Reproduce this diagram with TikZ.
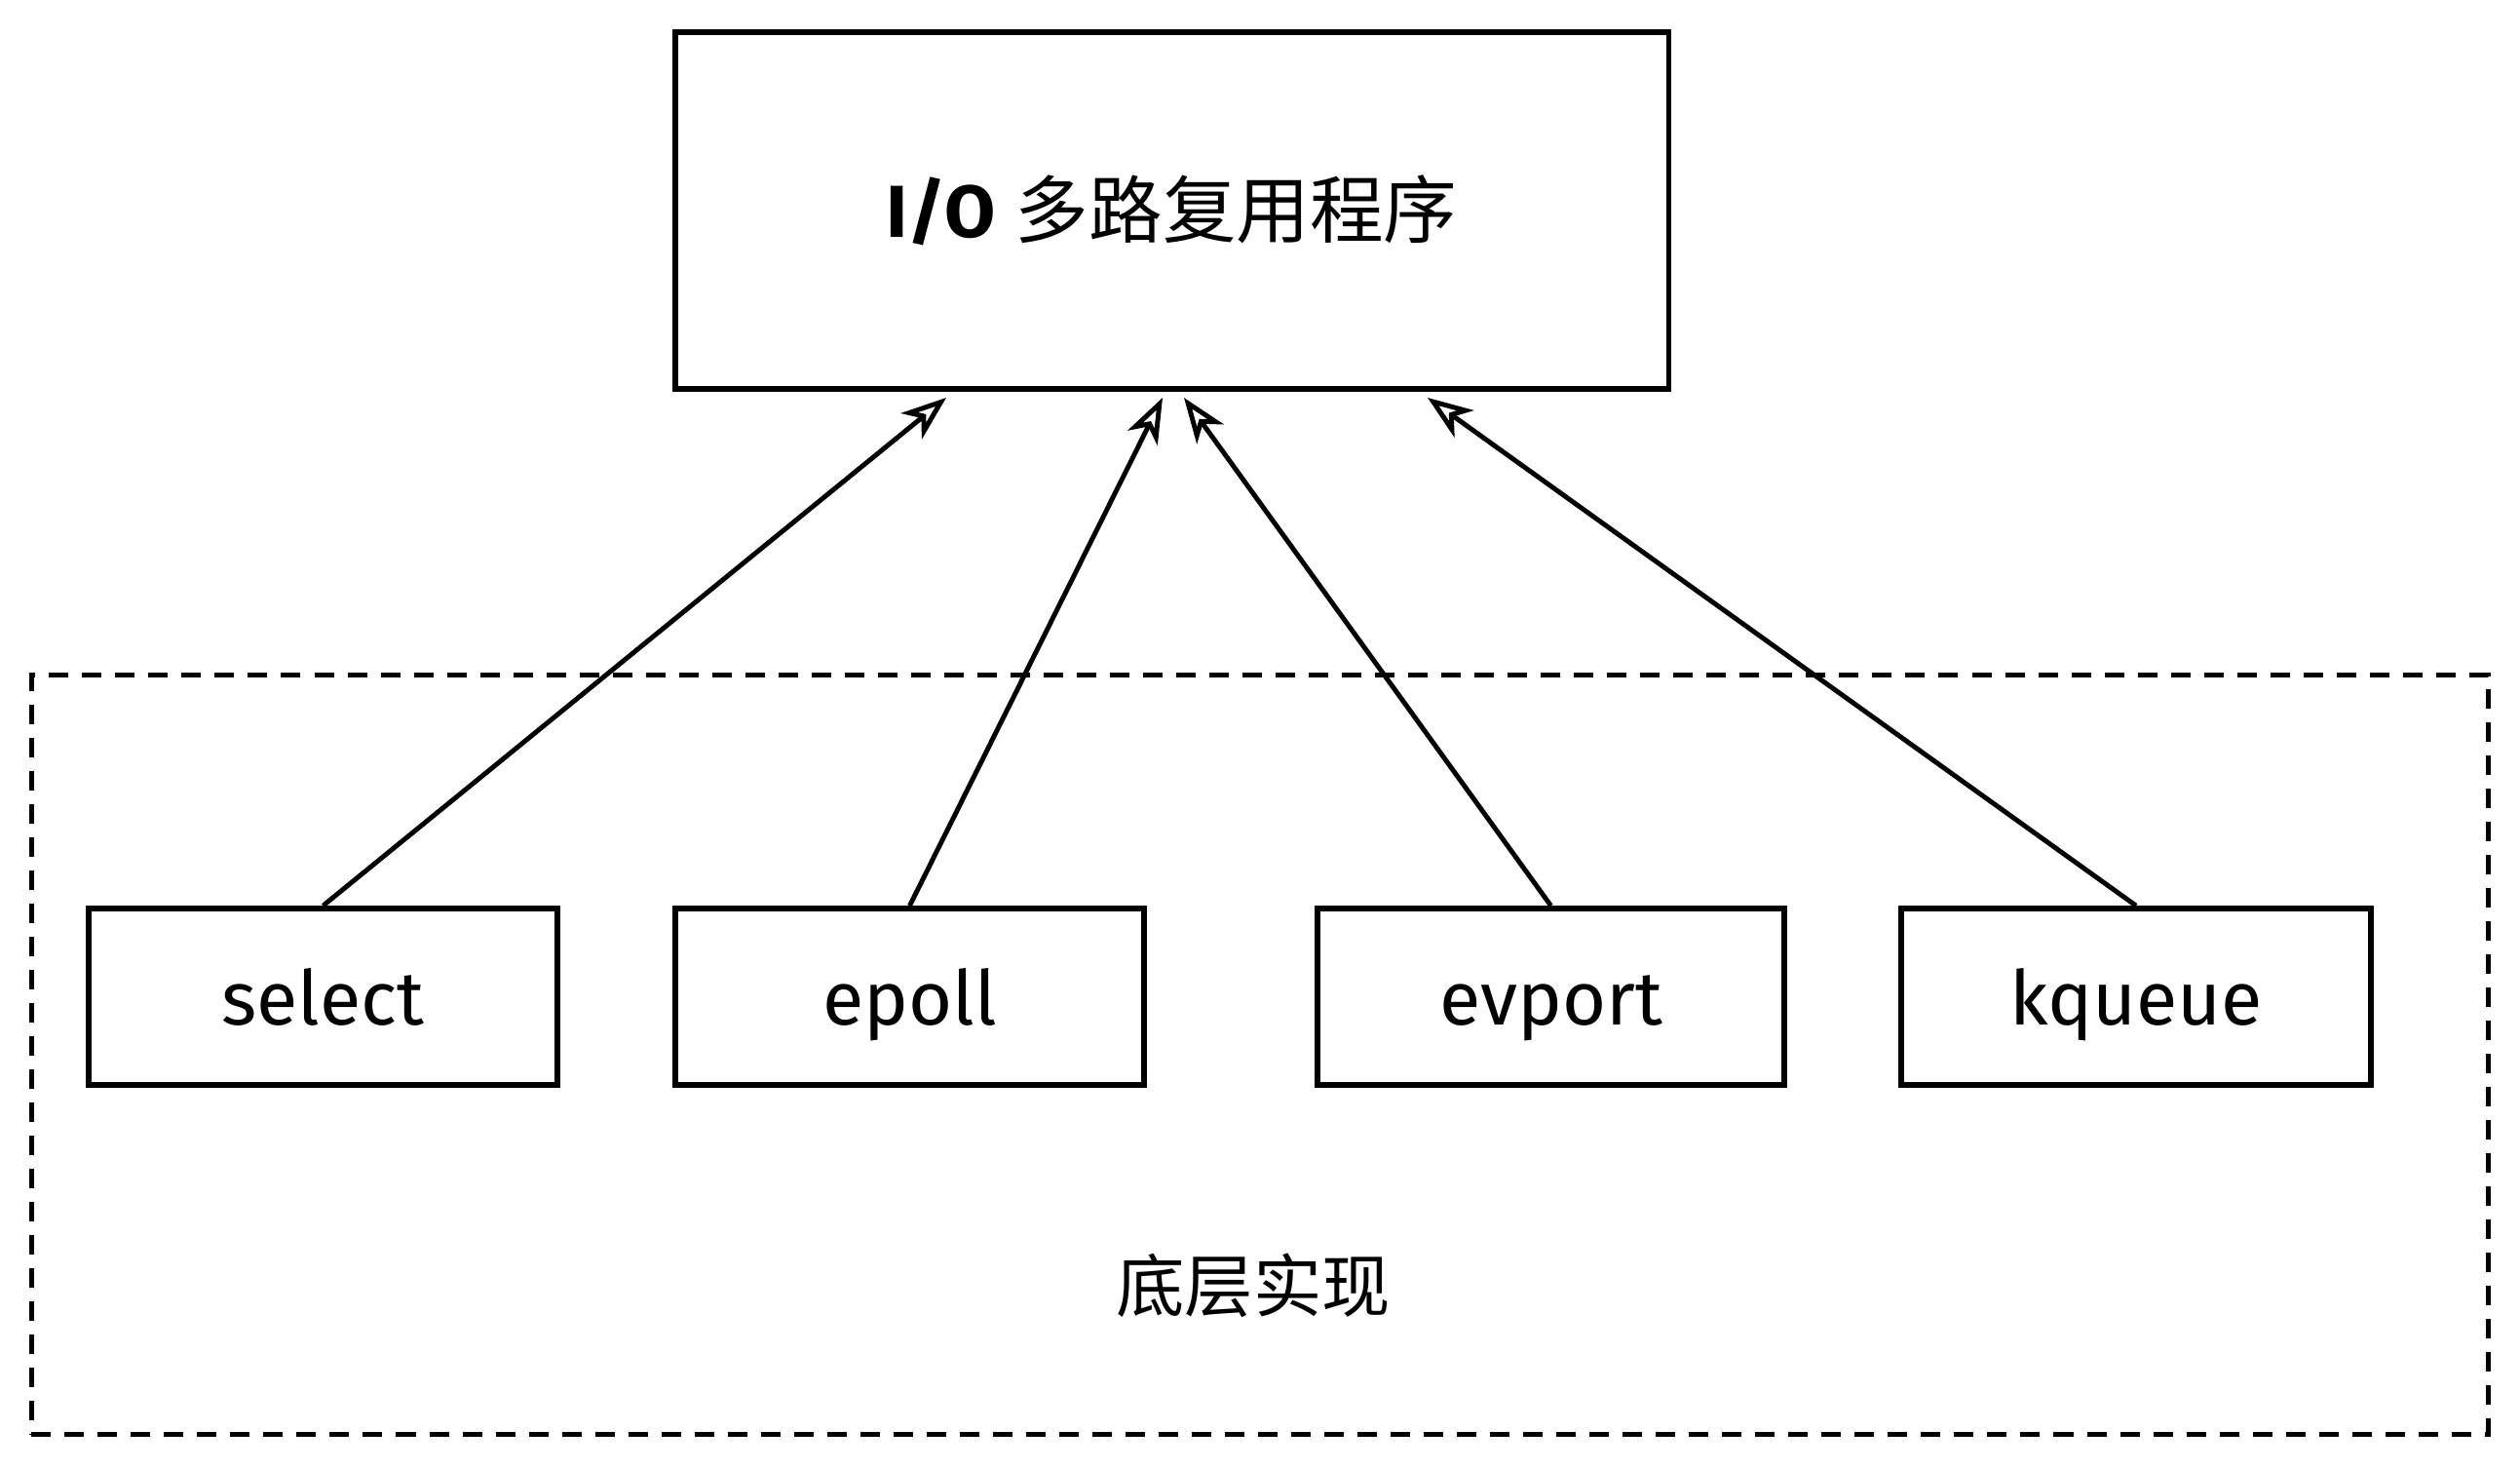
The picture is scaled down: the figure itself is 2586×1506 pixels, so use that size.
\documentclass[tikz,border=0pt]{standalone}
\usepackage{fontspec}
\setmainfont{Fira Sans}
\newfontfamily\cjk{Noto Sans CJK SC}
\usetikzlibrary{arrows.meta}
\begin{document}
\begin{tikzpicture}[x=0.01cm,y=-0.01cm,
  boxst/.style={draw=black, line width=1.6pt, rectangle, inner sep=0pt, font=\fontsize{22}{26}\selectfont},
  smallbox/.style={boxst, minimum height=1.81cm, text height=0.62cm, text depth=0.04cm},
  conn/.style={line width=1.4pt, -{Stealth[open,length=0.46cm,width=0.34cm,inset=0.13cm]}},
  dashbox/.style={draw=black, line width=1.5pt, dash pattern=on 0.2cm off 0.14cm, rectangle, inner sep=0pt}]
\useasboundingbox (0,0) rectangle (2586,1506);
\node[dashbox, minimum width=25.2cm, minimum height=7.78cm] (impl) at (1293,1082) {};
\node[boxst, minimum width=10.19cm, minimum height=3.66cm, font=\fontsize{21.5}{26}\selectfont] (top) at (1202.5,216) {\textbf{I/O} {\cjk 多路复用程序}};
\node[smallbox, minimum width=4.81cm] (select) at (331.5,1022.5) {select};
\node[smallbox, minimum width=4.81cm] (epoll) at (933.5,1022.5) {epoll};
\node[smallbox, minimum width=4.79cm] (evport) at (1591.5,1022.5) {evport};
\node[smallbox, minimum width=4.82cm] (kqueue) at (2192,1022.5) {kqueue};
\node[font=\cjk\fontsize{20}{24}\selectfont] (label) at (1286,1319) {底层实现};
\coordinate (t1) at (971,408);
\coordinate (t2) at (1193,408);
\coordinate (t3) at (1215,408);
\coordinate (t4) at (1465,408);
\draw[conn] (select.north) -- (t1);
\draw[conn] (epoll.north) -- (t2);
\draw[conn] (evport.north) -- (t3);
\draw[conn] (kqueue.north) -- (t4);
\end{tikzpicture}
\end{document}
